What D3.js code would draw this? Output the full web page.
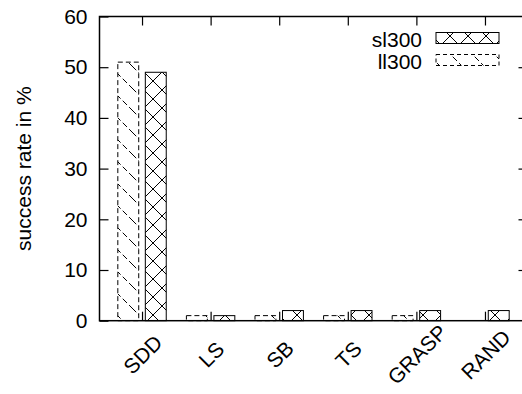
<!DOCTYPE html>
<html>
<head>
<meta charset="utf-8">
<script src="https://cdn.jsdelivr.net/npm/d3@7"></script>
<style>
  body { margin: 0; background: #fff; }
  text { font-family: "Liberation Sans", Arial, sans-serif; }
</style>
</head>
<body>
<div id="chart"></div>
<script>
// data
const categories = ["SDD", "LS", "SB", "TS", "GRASP", "RAND"];
const ll300 = [51, 1, 1, 1, 1, 0];
const sl300 = [49, 1, 2, 2, 2, 2];
const yTicks = [0, 10, 20, 30, 40, 50, 60];

const W = 522, H = 394;
const fontSize = 21;

const svg = d3.select("#chart")
    .append("svg")
    .attr("width", W)
    .attr("height", H);

const defs = svg.append("defs");

// crosshatch for sl300
const cross = defs.append("pattern")
    .attr("id", "cross")
    .attr("patternUnits", "userSpaceOnUse")
    .attr("width", 18)
    .attr("height", 18);
cross.append("rect").attr("width", 18).attr("height", 18).attr("fill", "#fff");
cross.append("path")
    .attr("d", "M0,0L18,18M18,0L0,18")
    .attr("stroke", "#000")
    .attr("stroke-width", 1)
    .attr("fill", "none");

// sparse dashed backslash for ll300
const dash = defs.append("pattern")
    .attr("id", "dash")
    .attr("patternUnits", "userSpaceOnUse")
    .attr("width", 22)
    .attr("height", 22);
dash.append("rect").attr("width", 22).attr("height", 22).attr("fill", "#fff");
dash.append("path")
    .attr("d", "M0,0L22,22")
    .attr("stroke", "#000")
    .attr("stroke-width", 1)
    .attr("stroke-dasharray", "6,3")
    .attr("fill", "none");

// scales
const x = d3.scaleLinear()
    .domain([-0.62, 5.62])
    .range([99.5, 527.5]);

const y = d3.scaleLinear()
    .domain([0, 60])
    .range([320.7, 16.5]);

const barW = 0.305, gap = 0.048;

// ll300 bars
svg.selectAll("rect.llbar")
    .data(ll300.map((v, i) => ({ v, i })).filter(d => d.v > 0))
    .enter()
    .append("rect")
    .attr("class", "llbar")
    .attr("x", d => x(d.i - gap - barW))
    .attr("y", d => y(d.v))
    .attr("width", d => x(d.i - gap) - x(d.i - gap - barW))
    .attr("height", d => y(0) - y(d.v))
    .attr("fill", "url(#dash)")
    .attr("stroke", "#000")
    .attr("stroke-width", 1)
    .attr("stroke-dasharray", "5,3");

// sl300 bars
svg.selectAll("rect.slbar")
    .data(sl300.map((v, i) => ({ v, i })))
    .enter()
    .append("rect")
    .attr("class", "slbar")
    .attr("x", d => x(d.i + gap))
    .attr("y", d => y(d.v))
    .attr("width", d => x(d.i + gap + barW) - x(d.i + gap))
    .attr("height", d => y(0) - y(d.v))
    .attr("fill", "url(#cross)")
    .attr("stroke", "#000")
    .attr("stroke-width", 1);

// axes (gnuplot style: inward ticks, mirrored)
const tickLen = 9;
const yAxis = svg.append("g")
    .attr("transform", `translate(${x.range()[0]},0)`)
    .call(d3.axisLeft(y).tickValues(yTicks).tickSizeInner(-tickLen).tickSizeOuter(0).tickPadding(12));
yAxis.select(".domain").remove();
yAxis.selectAll("text")
    .attr("font-size", fontSize)
    .attr("fill", "#000")
    .attr("font-family", "Liberation Sans, Arial, sans-serif");

const yAxisR = svg.append("g")
    .attr("transform", `translate(${x.range()[1]},0)`)
    .call(d3.axisRight(y).tickValues(yTicks.slice(1, -1)).tickSizeInner(-tickLen).tickSizeOuter(0).tickFormat(""));
yAxisR.select(".domain").remove();

const xAxis = svg.append("g")
    .attr("transform", `translate(0,${y(0)})`)
    .call(d3.axisBottom(x).tickValues(d3.range(categories.length)).tickSizeInner(-tickLen).tickSizeOuter(0).tickFormat(""));
xAxis.select(".domain").remove();

const xAxisTop = svg.append("g")
    .attr("transform", `translate(0,${y(60)})`)
    .call(d3.axisTop(x).tickValues(d3.range(categories.length)).tickSizeInner(-tickLen).tickSizeOuter(0).tickFormat(""));
xAxisTop.select(".domain").remove();

svg.selectAll(".tick line").attr("stroke", "#000").attr("stroke-width", 1.2);

// category labels, rotated about their middle
svg.append("g")
    .selectAll("text")
    .data(categories)
    .enter()
    .append("text")
    .attr("transform", (d, i) => `translate(${x(i) + 6},${y(0) + 39}) rotate(-45)`)
    .attr("text-anchor", "middle")
    .attr("font-size", fontSize)
    .text(d => d);

// frame
svg.append("rect")
    .attr("x", x.range()[0])
    .attr("y", y(60))
    .attr("width", x.range()[1] - x.range()[0])
    .attr("height", y(0) - y(60))
    .attr("fill", "none")
    .attr("stroke", "#000")
    .attr("stroke-width", 1.5);

// y label
svg.append("text")
    .attr("transform", `translate(31,${(y(0) + y(60)) / 2}) rotate(-90)`)
    .attr("text-anchor", "middle")
    .attr("font-size", fontSize)
    .text("success rate in %");

// legend
const legend = [
    { name: "sl300", fill: "url(#cross)", dash: null, y: 38 },
    { name: "ll300", fill: "url(#dash)", dash: "4,3", y: 60 }
];
const lg = svg.append("g");
lg.selectAll("text")
    .data(legend)
    .enter()
    .append("text")
    .attr("x", 422)
    .attr("y", d => d.y + 9)
    .attr("text-anchor", "end")
    .attr("font-size", fontSize)
    .text(d => d.name);
lg.selectAll("rect")
    .data(legend)
    .enter()
    .append("rect")
    .attr("x", 436)
    .attr("y", d => d.y - 5.5)
    .attr("width", 63)
    .attr("height", 11)
    .attr("fill", d => d.fill)
    .attr("stroke", "#000")
    .attr("stroke-width", 1)
    .attr("stroke-dasharray", d => d.dash);
</script>
</body>
</html>
